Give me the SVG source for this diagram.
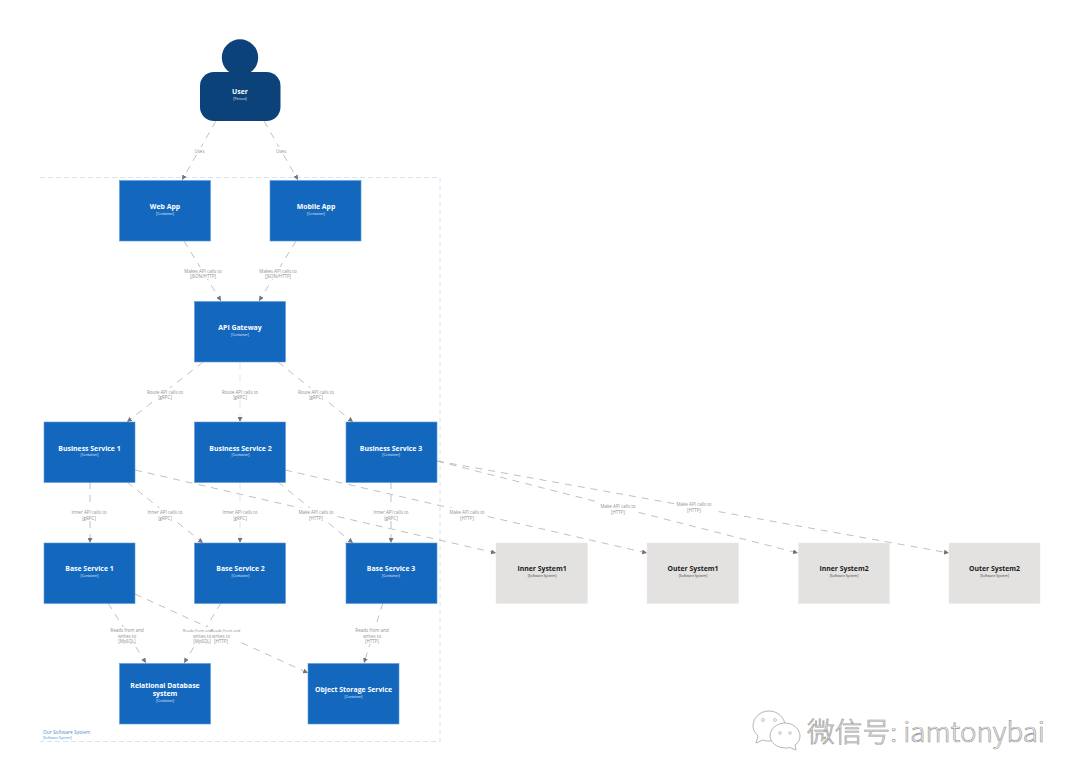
<svg xmlns="http://www.w3.org/2000/svg" width="1080" height="782" viewBox="0 0 1080 782">
  <defs>
    <marker id="tip" markerUnits="userSpaceOnUse" markerWidth="6" markerHeight="5" refX="5" refY="2.500" orient="auto">
      <path d="M0 0L5 2.500L0 5Z" fill="#757575"/>
    </marker>
  </defs>
  <style>
    text { font-family: "Open Sans", "Noto Sans", "Liberation Sans", sans-serif; text-anchor: middle; }
    .blue { fill: #1368bd; stroke: #5c9ad9; stroke-width: .6; }
    .grey { fill: #e3e2e0; stroke: #ececea; stroke-width: .6; }
    .person { fill: #0b4279; }
    .title { font-size: 6.9px; font-weight: 700; fill: #fff; }
    .sub { font-size: 3.4px; fill: #e6eef8; }
    .grey-t { fill: #1a1a1a; }
    .grey-s { fill: #444; }
    .edge { fill: none; stroke: #b0b0b0; stroke-width: .8; stroke-dasharray: 7 6; marker-end: url(#tip); }
    .lbl { font-size: 4.5px; fill: #909090; }
    .lbl-tight { font-size: 4px; }
    .lbl-bg { fill: #fff; }
    .bubble { fill: #fff; stroke: #b5b5b5; stroke-width: 1; }
    .eye { fill: #fff; stroke: #aaa; stroke-width: .7; }
  </style>

  <rect width="1080" height="782" fill="#fff"/>

  <g id="boundary">
    <path d="M40 177.500H440V741.500H40" fill="none" stroke="#d5e4f4" stroke-width="1" stroke-dasharray="5 3"/>
    <text x="43" y="733.500" style="text-anchor:start;font-size:4.800px;fill:#4b8fd2">Our Software System</text>
    <text x="43" y="738.500" style="text-anchor:start;font-size:3.400px;fill:#4b8fd2">[Software System]</text>
  </g>

  <g id="connectors">
    <path class="edge" d="M216 121L182 180"/>
    <path class="edge" d="M264 121L298 180"/>
    <path class="edge" d="M184 241L221 301"/>
    <path class="edge" d="M296 241L259 301"/>
    <path class="edge" d="M203 362L127 422"/>
    <path class="edge" d="M240 362V422" style="stroke:#dcdcdc"/>
    <path class="edge" d="M278 362L353 422"/>
    <path class="edge" d="M90 482V543"/>
    <path class="edge" d="M127 482L203 543"/>
    <path class="edge" d="M240 482V543" style="stroke:#dcdcdc"/>
    <path class="edge" d="M278 482L353 543"/>
    <path class="edge" d="M391 482V543"/>
    <path class="edge" d="M135 470L496 553"/>
    <path class="edge" d="M285 470L647 553"/>
    <path class="edge" d="M437 461L798 553"/>
    <path class="edge" d="M437 461L949 553"/>
    <path class="edge" d="M108 603L146 663"/>
    <path class="edge" d="M221 603L184 663"/>
    <path class="edge" d="M135 594L308 673"/>
    <path class="edge" d="M383 603L364 663"/>

    <g id="connector-labels">
      <rect class="lbl-bg" x="193" y="147" width="13" height="7"/>
      <text class="lbl" x="199.500" y="152.500">Uses</text>
      <rect class="lbl-bg" x="274.500" y="147" width="13" height="7"/>
      <text class="lbl" x="281" y="152.500">Uses</text>

      <rect class="lbl-bg" x="183" y="267" width="40" height="12"/>
      <text class="lbl" x="203" y="272.500">Makes API calls to</text>
      <text class="lbl" x="203" y="278">[JSON/HTTP]</text>
      <rect class="lbl-bg" x="258" y="267" width="40" height="12"/>
      <text class="lbl" x="278" y="272.500">Makes API calls to</text>
      <text class="lbl" x="278" y="278">[JSON/HTTP]</text>

      <rect class="lbl-bg" x="146" y="388" width="38" height="12"/>
      <text class="lbl" x="165" y="393.500">Route API calls to</text>
      <text class="lbl" x="165" y="399">[gRPC]</text>
      <rect class="lbl-bg" x="221" y="388" width="38" height="12"/>
      <text class="lbl" x="240" y="393.500">Route API calls to</text>
      <text class="lbl" x="240" y="399">[gRPC]</text>
      <rect class="lbl-bg" x="297" y="388" width="38" height="12"/>
      <text class="lbl" x="316" y="393.500">Route API calls to</text>
      <text class="lbl" x="316" y="399">[gRPC]</text>

      <rect class="lbl-bg" x="70" y="508" width="38" height="12"/>
      <text class="lbl" x="89" y="514">Inner API calls to</text>
      <text class="lbl" x="89" y="519.500">[gRPC]</text>
      <rect class="lbl-bg" x="146" y="508" width="38" height="12"/>
      <text class="lbl" x="165" y="514">Inner API calls to</text>
      <text class="lbl" x="165" y="519.500">[gRPC]</text>
      <rect class="lbl-bg" x="221" y="508" width="38" height="12"/>
      <text class="lbl" x="240" y="514">Inner API calls to</text>
      <text class="lbl" x="240" y="519.500">[gRPC]</text>
      <rect class="lbl-bg" x="297" y="508" width="38" height="12"/>
      <text class="lbl" x="316" y="514">Make API calls to</text>
      <text class="lbl" x="316" y="519.500">[HTTP]</text>
      <rect class="lbl-bg" x="372" y="508" width="38" height="12"/>
      <text class="lbl" x="391" y="514">Inner API calls to</text>
      <text class="lbl" x="391" y="519.500">[gRPC]</text>

      <rect class="lbl-bg" x="448" y="508" width="38" height="12"/>
      <text class="lbl" x="467" y="514">Make API calls to</text>
      <text class="lbl" x="467" y="519.500">[HTTP]</text>
      <rect class="lbl-bg" x="599" y="502" width="38" height="12"/>
      <text class="lbl" x="618" y="508">Make API calls to</text>
      <text class="lbl" x="618" y="513.500">[HTTP]</text>
      <rect class="lbl-bg" x="675" y="500" width="38" height="12"/>
      <text class="lbl" x="694" y="506">Make API calls to</text>
      <text class="lbl" x="694" y="511.500">[HTTP]</text>

      <rect class="lbl-bg" x="108" y="627" width="38" height="17"/>
      <text class="lbl" x="127" y="632">Reads from and</text>
      <text class="lbl" x="127" y="637.500">writes to</text>
      <text class="lbl" x="127" y="643">[MySQL]</text>
      <rect class="lbl-bg" x="183" y="627" width="57" height="17"/>
      <text class="lbl lbl-tight" x="197.500" y="632">Reads from and</text>
      <text class="lbl" x="202" y="637.500">writes to</text>
      <text class="lbl" x="202" y="643">[MySQL]</text>
      <text class="lbl lbl-tight" x="225.500" y="632">Reads from and</text>
      <text class="lbl" x="221" y="637.500">writes to</text>
      <text class="lbl" x="221" y="643">[HTTP]</text>
      <rect class="lbl-bg" x="353" y="627" width="38" height="17"/>
      <text class="lbl" x="372" y="632">Reads from and</text>
      <text class="lbl" x="372" y="637.500">writes to</text>
      <text class="lbl" x="372" y="643">[HTTP]</text>
    </g>
  </g>

  <g id="user">
    <circle class="person" cx="240" cy="57.500" r="18.200"/>
    <rect class="person" x="200" y="72" width="80.500" height="49" rx="14"/>
    <text class="title" x="240" y="94">User</text>
    <text class="sub" x="240" y="100">[Person]</text>
  </g>

  <g id="web-app">
    <rect class="blue" x="119.500" y="180.500" width="91" height="60.500"/>
    <text class="title" x="165" y="209">Web App</text>
    <text class="sub" x="165" y="215">[Container]</text>
  </g>
  <g id="mobile-app">
    <rect class="blue" x="270" y="180.500" width="91" height="60.500"/>
    <text class="title" x="316" y="209">Mobile App</text>
    <text class="sub" x="316" y="215">[Container]</text>
  </g>
  <g id="api-gateway">
    <rect class="blue" x="194.500" y="301.500" width="91" height="60.500"/>
    <text class="title" x="240" y="330">API Gateway</text>
    <text class="sub" x="240" y="335.500">[Container]</text>
  </g>

  <g id="business-service-1">
    <rect class="blue" x="44" y="422" width="91" height="60.500"/>
    <text class="title" x="89.500" y="450.500">Business Service 1</text>
    <text class="sub" x="89.500" y="456">[Container]</text>
  </g>
  <g id="business-service-2">
    <rect class="blue" x="194.500" y="422" width="91" height="60.500"/>
    <text class="title" x="240.500" y="450.500">Business Service 2</text>
    <text class="sub" x="240.500" y="456">[Container]</text>
  </g>
  <g id="business-service-3">
    <rect class="blue" x="346" y="422" width="91" height="60.500"/>
    <text class="title" x="391" y="450.500">Business Service 3</text>
    <text class="sub" x="391" y="456">[Container]</text>
  </g>

  <g id="base-service-1">
    <rect class="blue" x="44" y="543" width="91" height="60.500"/>
    <text class="title" x="89.500" y="571">Base Service 1</text>
    <text class="sub" x="89.500" y="576.500">[Container]</text>
  </g>
  <g id="base-service-2">
    <rect class="blue" x="194.500" y="543" width="91" height="60.500"/>
    <text class="title" x="240.500" y="571">Base Service 2</text>
    <text class="sub" x="240.500" y="576.500">[Container]</text>
  </g>
  <g id="base-service-3">
    <rect class="blue" x="346" y="543" width="91" height="60.500"/>
    <text class="title" x="391" y="571">Base Service 3</text>
    <text class="sub" x="391" y="576.500">[Container]</text>
  </g>

  <g id="relational-database">
    <rect class="blue" x="119.500" y="663.500" width="91" height="60.500"/>
    <text class="title" x="165" y="687.500">Relational Database</text>
    <text class="title" x="165" y="696">system</text>
    <text class="sub" x="165" y="701.500">[Container]</text>
  </g>
  <g id="object-storage">
    <rect class="blue" x="308" y="663.500" width="91" height="60.500"/>
    <text class="title" x="353.500" y="691.500">Object Storage Service</text>
    <text class="sub" x="353.500" y="697.500">[Container]</text>
  </g>

  <g id="inner-system-1">
    <rect class="grey" x="496" y="543" width="91.500" height="60.500"/>
    <text class="title grey-t" x="542" y="571">Inner System1</text>
    <text class="sub grey-s" x="542" y="577">[Software System]</text>
  </g>
  <g id="outer-system-1">
    <rect class="grey" x="647" y="543" width="91.500" height="60.500"/>
    <text class="title grey-t" x="693" y="571">Outer System1</text>
    <text class="sub grey-s" x="693" y="577">[Software System]</text>
  </g>
  <g id="inner-system-2">
    <rect class="grey" x="798.500" y="543" width="91" height="60.500"/>
    <text class="title grey-t" x="844" y="571">Inner System2</text>
    <text class="sub grey-s" x="844" y="577">[Software System]</text>
  </g>
  <g id="outer-system-2">
    <rect class="grey" x="949" y="543" width="91" height="60.500"/>
    <text class="title grey-t" x="994.500" y="571">Outer System2</text>
    <text class="sub grey-s" x="994.500" y="577">[Software System]</text>
  </g>

  <g id="account-mark">
    <path class="bubble" d="M769 711C778 711 785 718 785 726C785 734 778 741 769 741C767 741 765 741 763 740L756 743L758 736C755 733 753 730 753 726C753 718 760 711 769 711Z"/>
    <circle class="eye" cx="763" cy="720" r="1.500"/>
    <circle class="eye" cx="775" cy="720" r="1.500"/>
    <path class="bubble" d="M785 723C793 723 800 729 800 736C800 740 798 743 795 745L796 750L790 747.500C788 748 787 748 785 748C777 748 770 742 770 736C770 729 777 723 785 723Z"/>
    <circle class="eye" cx="780" cy="733" r="1.300"/>
    <circle class="eye" cx="790" cy="733" r="1.300"/>
    <text x="807" y="742" textLength="238" lengthAdjust="spacingAndGlyphs" style="text-anchor:start;font-family:'Noto Sans CJK SC','Noto Sans',sans-serif;font-size:27px;font-weight:300;fill:#fff;stroke:#9a9a9a;stroke-width:.7">微信号: iamtonybai</text>
  </g>
</svg>
